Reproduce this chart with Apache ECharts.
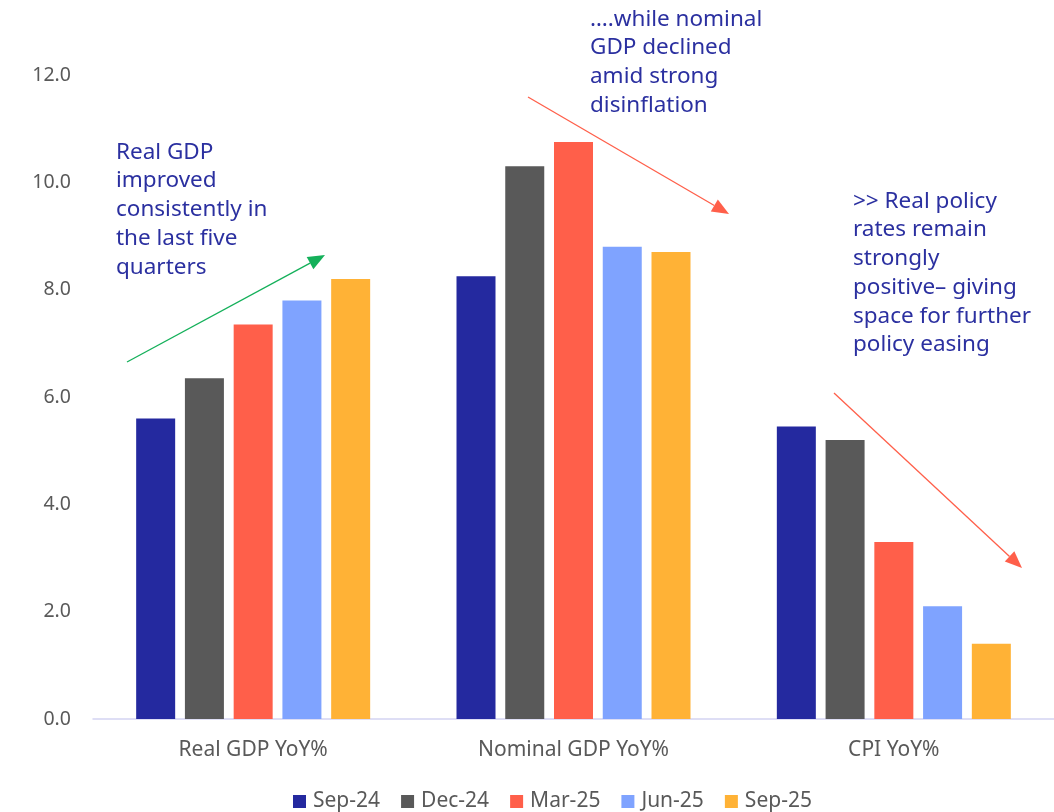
<!DOCTYPE html>
<html>
<head>
<meta charset="utf-8">
<script src="https://cdn.jsdelivr.net/npm/echarts@6/dist/echarts.min.js"></script>
<style>html,body{margin:0;padding:0;background:#fff;}#c{width:1054px;height:812px;}</style>
</head>
<body>
<div id="c"></div>
<script>
var categories = ['Real GDP YoY%', 'Nominal GDP YoY%', 'CPI YoY%'];
var seriesNames = ['Sep-24', 'Dec-24', 'Mar-25', 'Jun-25', 'Sep-25'];
var sep24 = [5.6, 8.25, 5.45];
var dec24 = [6.35, 10.3, 5.2];
var mar25 = [7.35, 10.75, 3.3];
var jun25 = [7.8, 8.8, 2.1];
var sep25 = [8.2, 8.7, 1.4];
var yTicks = [0, 2, 4, 6, 8, 10, 12];
var colors = ['#24299f', '#595959', '#ff5f4a', '#7fa3ff', '#ffb236'];
var values = [sep24, dec24, mar25, jun25, sep25];

var font = '"Noto Sans", Lato, sans-serif';
var textColor = '#2b30a0';

function arrow(x1, y1, x2, y2, color) {
  var dx = x2 - x1, dy = y2 - y1, len = Math.sqrt(dx*dx + dy*dy);
  var ux = dx/len, uy = dy/len, hl = 17, hw = 7;
  var bx = x2 - ux*hl, by = y2 - uy*hl;
  return [
    {type: 'line', shape: {x1: x1, y1: y1, x2: bx, y2: by}, style: {stroke: color, lineWidth: 1.3}},
    {type: 'polygon', shape: {points: [[x2, y2], [bx - uy*hw, by + ux*hw], [bx + uy*hw, by - ux*hw]]}, style: {fill: color}}
  ];
}

var chart = echarts.init(document.getElementById('c'));
var graphics = [
  {type: 'text', left: 116, top: 138, style: {text: 'Real GDP\nimproved\nconsistently in\nthe last five\nquarters', font: '22.5px ' + font, fill: textColor, lineHeight: 28.7}},
  {type: 'text', left: 590, top: 5, style: {text: '\u2026.while nominal\nGDP declined\namid strong\ndisinflation', font: '22.5px ' + font, fill: textColor, lineHeight: 28.7}},
  {type: 'text', left: 853, top: 187, style: {text: '>> Real policy\nrates remain\nstrongly\npositive\u2013 giving\nspace for further\npolicy easing', font: '22.5px ' + font, fill: textColor, lineHeight: 28.7}}
].concat(arrow(127, 362, 325, 255, '#14b05a'))
 .concat(arrow(528, 97, 729, 214, '#ff5f4a'))
 .concat(arrow(834, 393, 1022, 568, '#ff5f4a'));

chart.setOption({
  animation: false,
  backgroundColor: '#fff',
  textStyle: {fontFamily: font},
  grid: {left: 93, right: 0, top: 75, bottom: 93, containLabel: false},
  legend: {
    bottom: -5, left: 288, itemWidth: 13, itemHeight: 13, itemGap: 21,
    icon: 'rect',
    textStyle: {fontSize: 21, color: '#595959', fontFamily: font, padding: [0, 0, 0, 2]},
    data: seriesNames
  },
  xAxis: {
    type: 'category', data: categories,
    axisLine: {lineStyle: {color: '#d4d4f2', width: 1.5}},
    axisTick: {show: false},
    axisLabel: {fontSize: 21, color: '#595959', margin: 21, fontFamily: font}
  },
  yAxis: {
    type: 'value', min: yTicks[0], max: yTicks[yTicks.length - 1], interval: 2,
    splitLine: {show: false},
    axisLine: {show: false}, axisTick: {show: false},
    axisLabel: {fontSize: 19.5, color: '#595959', margin: 22, fontFamily: font,
      formatter: function (v) { return v.toFixed(1); }}
  },
  series: seriesNames.map(function (n, i) {
    return {name: n, type: 'bar', data: values[i], barWidth: 39, barGap: '25%',
      itemStyle: {color: colors[i]}};
  }),
  graphic: graphics
});
</script>
</body>
</html>
